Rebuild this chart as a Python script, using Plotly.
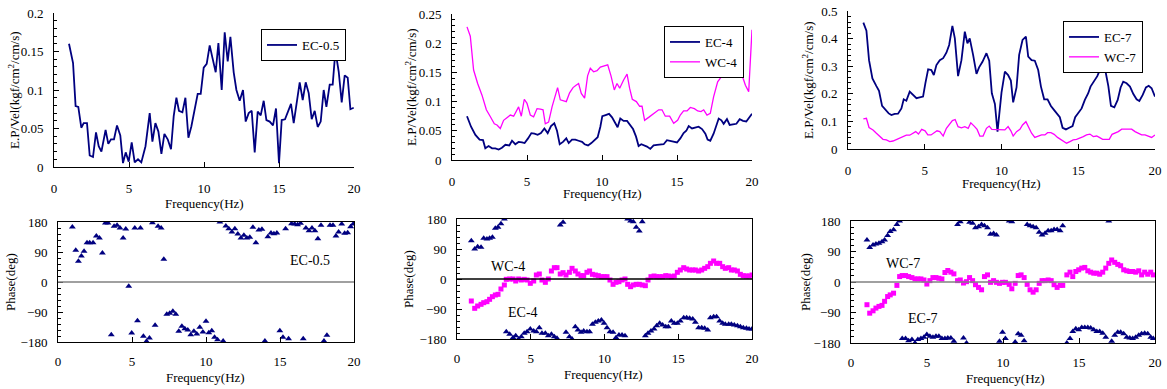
import plotly.graph_objects as go

# ---------------- DATA ----------------
# Top-left: EC-0.5 E.P/Vel
f_ec05 = [1.0, 1.27, 1.44, 1.62, 1.82, 1.98, 2.2, 2.38, 2.6, 2.8, 2.98, 3.16, 3.44, 3.62, 3.8, 4.0, 4.2, 4.42,
          4.6, 4.78, 4.98, 5.18, 5.38, 5.6, 5.82, 6.1, 6.38, 6.56, 6.76, 6.96, 7.16, 7.36, 7.58, 7.8, 7.98,
          8.16, 8.33, 8.56, 8.76, 8.96, 9.16, 9.38, 9.58, 9.78, 9.98, 10.18, 10.38, 10.56, 10.78, 10.96,
          11.18, 11.38, 11.58, 11.76, 11.98, 12.16, 12.38, 12.6, 12.78, 12.98, 13.18, 13.38, 13.58, 13.78,
          13.98, 14.16, 14.38, 14.6, 14.8, 15.0, 15.18, 15.4, 15.6, 15.8, 15.98, 16.18, 16.38, 16.58, 16.78,
          16.98, 17.18, 17.38, 17.58, 17.78, 17.98, 18.16, 18.38, 18.58, 18.76, 18.98, 19.18, 19.38, 19.58,
          19.76, 19.98]
ep_ec05 = [0.160, 0.135, 0.079, 0.078, 0.051, 0.057, 0.057, 0.015, 0.013, 0.045, 0.027, 0.020, 0.048, 0.030,
           0.036, 0.036, 0.054, 0.041, 0.005, 0.019, 0.007, 0.032, 0.006, 0.010, 0.006, 0.027, 0.070, 0.033,
           0.057, 0.046, 0.017, 0.043, 0.036, 0.023, 0.066, 0.090, 0.073, 0.071, 0.090, 0.038, 0.053, 0.074,
           0.095, 0.095, 0.129, 0.134, 0.158, 0.142, 0.123, 0.161, 0.100, 0.175, 0.137, 0.169, 0.123, 0.100,
           0.086, 0.100, 0.059, 0.070, 0.073, 0.019, 0.072, 0.067, 0.086, 0.061, 0.059, 0.054, 0.076, 0.005,
           0.061, 0.062, 0.071, 0.082, 0.057, 0.087, 0.110, 0.087, 0.110, 0.096, 0.062, 0.073, 0.052, 0.059,
           0.100, 0.078, 0.107, 0.107, 0.151, 0.124, 0.084, 0.119, 0.116, 0.075, 0.077]

# Top-middle: EC-4 / WC-4
f_wc4 = [1.0, 1.22, 1.44, 1.71, 2.0, 2.29, 2.56, 2.82, 3.0, 3.22, 3.44, 3.67, 3.89, 4.11, 4.44, 4.62, 4.82,
         5.0, 5.22, 5.44, 5.67, 5.89, 6.07, 6.22, 6.44, 6.67, 6.89, 7.04, 7.22, 7.44, 7.62, 7.84, 8.07, 8.27,
         8.44, 8.62, 8.84, 9.04, 9.22, 9.44, 9.67, 9.89, 10.11, 10.38, 10.6, 10.82, 11.0, 11.18, 11.44, 11.67,
         11.84, 12.02, 12.29, 12.51, 12.67, 12.84, 13.11, 13.33, 13.56, 13.78, 14.0, 14.22, 14.51, 14.78,
         15.04, 15.22, 15.44, 15.67, 15.89, 16.16, 16.38, 16.6, 16.78, 17.0, 17.22, 17.44, 17.71, 18.0, 18.22,
         18.51, 18.78, 19.04, 19.33, 19.56, 19.78, 20.0]
ep_wc4 = [0.228, 0.212, 0.154, 0.131, 0.111, 0.086, 0.074, 0.062, 0.060, 0.054, 0.068, 0.073, 0.077, 0.075,
          0.091, 0.075, 0.104, 0.097, 0.077, 0.074, 0.088, 0.087, 0.086, 0.062, 0.065, 0.091, 0.113, 0.124,
          0.103, 0.102, 0.100, 0.115, 0.124, 0.128, 0.131, 0.114, 0.106, 0.144, 0.157, 0.151, 0.153, 0.159,
          0.161, 0.163, 0.144, 0.120, 0.131, 0.123, 0.137, 0.147, 0.123, 0.104, 0.100, 0.092, 0.092, 0.068,
          0.073, 0.077, 0.081, 0.086, 0.086, 0.075, 0.075, 0.063, 0.068, 0.077, 0.084, 0.084, 0.090, 0.088,
          0.084, 0.083, 0.086, 0.077, 0.080, 0.108, 0.134, 0.144, 0.143, 0.148, 0.157, 0.160, 0.146, 0.128,
          0.117, 0.223]
f_ec4 = [1.0, 1.27, 1.56, 1.84, 2.07, 2.22, 2.44, 2.67, 2.89, 3.11, 3.33, 3.56, 3.82, 4.0, 4.22, 4.44, 4.67,
         4.84, 5.07, 5.29, 5.49, 5.71, 5.93, 6.16, 6.38, 6.6, 6.82, 7.0, 7.18, 7.4, 7.62, 7.78, 8.0, 8.22, 8.44,
         8.67, 8.84, 9.07, 9.29, 9.51, 9.71, 9.89, 10.02, 10.24, 10.47, 10.67, 10.89, 11.04, 11.22, 11.44,
         11.67, 11.89, 12.07, 12.27, 12.44, 12.62, 12.82, 13.0, 13.22, 13.44, 13.67, 13.89, 14.11, 14.33,
         14.56, 14.78, 15.0, 15.22, 15.44, 15.62, 15.78, 16.0, 16.22, 16.44, 16.67, 16.89, 17.04, 17.22,
         17.44, 17.62, 17.78, 17.96, 18.11, 18.33, 18.51, 18.73, 18.96, 19.18, 19.4, 19.62, 19.84, 20.0]
ep_ec4 = [0.075, 0.057, 0.043, 0.035, 0.034, 0.020, 0.024, 0.020, 0.020, 0.018, 0.021, 0.026, 0.025, 0.033,
          0.027, 0.031, 0.030, 0.029, 0.037, 0.046, 0.045, 0.043, 0.046, 0.054, 0.046, 0.058, 0.063, 0.050,
          0.027, 0.031, 0.037, 0.029, 0.035, 0.035, 0.033, 0.031, 0.027, 0.025, 0.029, 0.034, 0.039, 0.057,
          0.075, 0.077, 0.079, 0.073, 0.064, 0.056, 0.071, 0.067, 0.067, 0.058, 0.053, 0.040, 0.024, 0.027,
          0.025, 0.023, 0.019, 0.025, 0.026, 0.027, 0.027, 0.034, 0.033, 0.031, 0.030, 0.037, 0.046, 0.050,
          0.058, 0.054, 0.056, 0.057, 0.053, 0.045, 0.035, 0.033, 0.045, 0.058, 0.071, 0.068, 0.062, 0.070,
          0.060, 0.061, 0.062, 0.070, 0.067, 0.066, 0.073, 0.079]

# Top-right: EC-7 / WC-7
f_ec7 = [1.0, 1.2, 1.37, 1.59, 1.85, 2.02, 2.22, 2.43, 2.65, 2.83, 3.04, 3.26, 3.48, 3.63, 3.8, 4.02, 4.24,
         4.46, 4.67, 4.89, 5.04, 5.22, 5.43, 5.59, 5.76, 5.98, 6.2, 6.41, 6.59, 6.8, 6.96, 7.17, 7.39, 7.61,
         7.78, 7.93, 8.15, 8.37, 8.54, 8.76, 9.02, 9.2, 9.37, 9.57, 9.74, 10.0, 10.22, 10.43, 10.61, 10.76,
         10.98, 11.15, 11.37, 11.59, 11.74, 11.96, 12.17, 12.39, 12.57, 12.78, 13.0, 13.22, 13.43, 13.65,
         13.8, 13.98, 14.2, 14.41, 14.63, 14.8, 15.0, 15.22, 15.43, 15.65, 15.8, 16.02, 16.24, 16.41, 16.57,
         16.78, 16.96, 17.13, 17.35, 17.57, 17.76, 17.93, 18.15, 18.37, 18.59, 18.8, 18.98, 19.2, 19.41,
         19.59, 19.78, 20.0]
ep_ec7 = [0.458, 0.429, 0.322, 0.256, 0.228, 0.211, 0.156, 0.141, 0.129, 0.123, 0.127, 0.128, 0.147, 0.180,
          0.175, 0.208, 0.196, 0.184, 0.187, 0.190, 0.238, 0.289, 0.286, 0.268, 0.304, 0.322, 0.329, 0.349,
          0.377, 0.446, 0.401, 0.264, 0.322, 0.425, 0.383, 0.401, 0.341, 0.272, 0.296, 0.316, 0.347, 0.320,
          0.202, 0.163, 0.063, 0.204, 0.280, 0.268, 0.248, 0.169, 0.223, 0.341, 0.395, 0.407, 0.335, 0.322,
          0.320, 0.286, 0.226, 0.180, 0.180, 0.156, 0.141, 0.123, 0.115, 0.077, 0.071, 0.077, 0.083, 0.115,
          0.129, 0.147, 0.178, 0.202, 0.226, 0.244, 0.264, 0.286, 0.295, 0.280, 0.228, 0.156, 0.151, 0.178,
          0.223, 0.244, 0.238, 0.226, 0.199, 0.180, 0.174, 0.196, 0.223, 0.229, 0.220, 0.190]
f_wc7 = [1.0, 1.2, 1.37, 1.63, 1.85, 2.07, 2.28, 2.5, 2.72, 2.93, 3.15, 3.37, 3.59, 3.8, 4.02, 4.24, 4.41,
         4.59, 4.8, 5.02, 5.2, 5.41, 5.59, 5.8, 5.98, 6.2, 6.41, 6.63, 6.8, 6.98, 7.17, 7.39, 7.61, 7.83, 8.0,
         8.22, 8.41, 8.59, 8.8, 9.02, 9.2, 9.37, 9.57, 9.78, 10.0, 10.22, 10.43, 10.61, 10.76, 10.98, 11.2,
         11.37, 11.59, 11.74, 11.96, 12.17, 12.39, 12.61, 12.83, 13.0, 13.22, 13.43, 13.65, 13.87, 14.09,
         14.24, 14.46, 14.67, 14.89, 15.11, 15.33, 15.54, 15.76, 15.98, 16.2, 16.37, 16.59, 16.8, 17.02,
         17.2, 17.39, 17.61, 17.83, 18.04, 18.26, 18.48, 18.7, 18.91, 19.13, 19.35, 19.57, 19.78, 20.0]
ep_wc7 = [0.109, 0.111, 0.078, 0.069, 0.057, 0.047, 0.035, 0.033, 0.027, 0.029, 0.035, 0.039, 0.047, 0.050,
          0.050, 0.059, 0.063, 0.054, 0.071, 0.066, 0.051, 0.051, 0.059, 0.066, 0.063, 0.047, 0.075, 0.093,
          0.103, 0.107, 0.081, 0.077, 0.081, 0.075, 0.095, 0.083, 0.071, 0.047, 0.047, 0.075, 0.083, 0.071,
          0.071, 0.069, 0.071, 0.069, 0.081, 0.066, 0.047, 0.063, 0.071, 0.087, 0.099, 0.081, 0.057, 0.042,
          0.047, 0.051, 0.051, 0.059, 0.059, 0.053, 0.042, 0.035, 0.027, 0.021, 0.027, 0.033, 0.035, 0.039,
          0.045, 0.051, 0.054, 0.045, 0.047, 0.042, 0.035, 0.035, 0.035, 0.053, 0.057, 0.063, 0.072, 0.072,
          0.071, 0.072, 0.063, 0.057, 0.051, 0.051, 0.047, 0.042, 0.051]

# Bottom-left: EC-0.5 phase
fp_ec05 = [0.97, 1.2, 1.38, 1.58, 1.76, 1.96, 2.14, 2.37, 2.59, 2.8, 3.0, 3.2, 3.38, 3.6, 3.79, 3.99, 4.19,
           4.4, 4.58, 4.78, 4.98, 5.19, 5.37, 5.57, 5.77, 5.98, 6.18, 6.38, 6.56, 6.76, 6.97, 7.15, 7.35, 7.55,
           7.76, 7.96, 8.16, 8.37, 8.57, 8.77, 8.97, 9.18, 9.38, 9.58, 9.79, 10.0, 10.19, 10.39, 10.58, 10.78,
           10.94, 11.16, 11.34, 11.54, 11.75, 11.95, 12.15, 12.36, 12.56, 12.76, 12.96, 13.17, 13.37, 13.57,
           13.78, 13.98, 14.18, 14.39, 14.59, 14.79, 14.99, 15.2, 15.38, 15.58, 15.78, 15.99, 16.19, 16.39,
           16.57, 16.75, 16.96, 17.16, 17.36, 17.56, 17.77, 17.97, 18.17, 18.38, 18.58, 18.78, 18.96, 19.17,
           19.37, 19.57, 19.77, 19.95]
ph_ec05 = [165, 95, 62, 78, 92, 118, 118, 118, 138, 132, 87, 177, 177, -158, 167, 170, 162, 132, 159, -13,
           -153, 162, -116, 162, -163, -178, -168, 178, -130, 167, 162, 68, -97, -94, -88, -97, -148, -133,
           -140, -144, -158, -148, -156, -136, -150, -118, -152, -146, -166, -173, 180, -177, 168, 160, 150,
           160, 144, 132, 140, 132, 134, 164, 118, 156, 158, -177, 136, 147, 145, 147, -146, -166, 160, -170,
           175, 174, 172, 176, -170, 162, 154, 162, 154, 130, 170, -177, -160, 170, 170, 138, 150, 174, 146,
           148, 166, 174]

# Bottom-middle: EC-4 / WC-4 phase
fp_4 = [0.97, 1.2, 1.4, 1.63, 1.81, 2.03, 2.21, 2.4, 2.6, 2.78, 2.98, 3.21, 3.34, 3.57, 3.8, 3.98, 4.18, 4.36,
        4.56, 4.75, 4.97, 5.2, 5.38, 5.58, 5.76, 5.99, 6.19, 6.4, 6.6, 6.78, 7.0, 7.19, 7.39, 7.62, 7.8, 8.02,
        8.2, 8.41, 8.59, 8.81, 8.99, 9.18, 9.38, 9.58, 9.79, 9.97, 10.17, 10.37, 10.58, 10.78, 10.98, 11.19,
        11.39, 11.57, 11.77, 11.95, 12.15, 12.36, 12.56, 12.77, 12.95, 13.15, 13.36, 13.54, 13.74, 13.94,
        14.15, 14.33, 14.53, 14.73, 14.94, 15.14, 15.37, 15.57, 15.77, 15.98, 16.16, 16.38, 16.59, 16.79,
        17.0, 17.18, 17.4, 17.6, 17.81, 18.01, 18.19, 18.42, 18.6, 18.8, 19.01, 19.21, 19.41, 19.62, 19.8, 20.0]
ph_ec4 = [115, 90, 97, 95, 122, 120, 122, 125, 152, 155, 166, 180, -158, -166, -176, -170, -180, -173, -163,
          -158, -150, -156, -158, -146, -163, -163, -170, -166, -173, -178, 162, 170, -160, -173, -180, -143,
          -153, -160, -156, -158, -158, -136, -130, -126, -123, -133, -146, -158, -160, -176, -168, -168, -170,
          180, 174, 172, 155, 144, 172, -170, -163, -156, -150, -140, -133, -138, -143, -143, -126, -133, -133,
          -126, -116, -116, -118, -120, -130, -146, -146, -148, -153, -116, -113, -113, -126, -133, -136, -136,
          -136, -138, -140, -143, -146, -148, -150, -150]
ph_wc4 = [-66, -88, -81, -76, -71, -68, -61, -53, -48, -46, -30, -18, -1, 0, 0, -6, 0, -3, -1, -3, -13, -6, 12,
          15, -3, -10, 0, 24, 34, 34, 15, 19, 12, 20, 32, 24, 15, 10, 10, 20, 24, 14, 12, 10, 7, 7, 7, -3, -16,
          -10, -8, -3, 0, -16, -23, -18, -16, -16, -18, -20, -3, 7, 9, 7, 7, 7, 10, 9, 7, 9, 20, 27, 34, 30, 27,
          27, 27, 24, 27, 32, 37, 47, 54, 47, 47, 37, 32, 34, 27, 27, 24, 14, 10, 9, 9, 12]

# Bottom-right: EC-7 / WC-7 phase
fp_7 = [1.05, 1.23, 1.45, 1.64, 1.84, 2.04, 2.21, 2.41, 2.58, 2.8, 3.02, 3.2, 3.37, 3.59, 3.79, 4.01, 4.21, 4.4,
        4.6, 4.8, 4.99, 5.19, 5.39, 5.59, 5.78, 5.98, 6.18, 6.37, 6.57, 6.77, 7.01, 7.19, 7.4, 7.6, 7.8, 8.0,
        8.19, 8.39, 8.59, 8.78, 8.98, 9.18, 9.38, 9.57, 9.77, 9.97, 10.16, 10.41, 10.58, 10.8, 11.0, 11.19,
        11.39, 11.59, 11.78, 11.98, 12.18, 12.38, 12.57, 12.77, 12.97, 13.17, 13.36, 13.56, 13.76, 13.93,
        14.2, 14.41, 14.59, 14.79, 14.98, 15.18, 15.38, 15.58, 15.77, 15.97, 16.17, 16.36, 16.56, 16.76,
        16.96, 17.15, 17.35, 17.55, 17.74, 17.94, 18.14, 18.34, 18.53, 18.73, 18.93, 19.12, 19.32, 19.52,
        19.72, 19.89]
ph_ec7 = [124, 102, 109, 112, 114, 119, 124, 137, 149, 154, 170, 180, -167, -167, -173, -170, -180, -170, -167,
          -163, -155, -160, -163, -160, -160, -167, -167, -165, -165, -175, 170, 178, -165, -180, 176, 173, 160,
          163, 170, 166, 160, 141, 143, 139, -175, -148, -167, 180, 178, -177, -153, -157, -173, 170, 166, 163,
          160, 147, 139, 144, 151, 151, 155, 155, 151, 166, -180, -167, -146, -138, -141, -134, -134, -134,
          -136, -141, -146, -146, -151, -163, 180, -175, -157, -148, -148, -153, -163, -165, -167, -163, -157,
          -153, -151, -153, -163, -167]
ph_wc7 = [-67, -92, -85, -77, -72, -69, -57, -43, -38, -33, -10, 16, 19, 19, 16, 13, 9, 9, 9, 6, -6, 4, 13, 13,
          11, 9, 28, 34, 29, 24, 4, 6, -3, 1, 13, 4, -8, -16, -23, 16, 21, -1, 4, -1, -4, -1, -1, -7, -20, -4,
          19, 21, 13, -7, -23, -30, -23, -4, 4, 4, 6, 4, -8, -16, -10, -10, 21, 29, 16, 31, 36, 41, 43, 33, 29,
          26, 26, 23, 29, 41, 55, 65, 58, 52, 48, 36, 33, 31, 31, 29, 33, 21, 29, 23, 29, 21]

x_ticks = [0, 5, 10, 15, 20]
phase_ticks = [-180, -90, 0, 90, 180]

NAVY = "#000080"
MAG = "#FF00FF"
FONT = "Liberation Serif"
W, H = 1167, 389

# ---------------- FIGURE ----------------
fig = go.Figure()

def line(x, y, name, color, ax, legend, width=1.8):
    fig.add_trace(go.Scatter(x=x, y=y, name=name, mode="lines",
                             line=dict(color=color, width=width),
                             xaxis="x" + ax, yaxis="y" + ax, legend=legend, showlegend=True))

def pts(x, y, color, symbol, size, ax):
    fig.add_trace(go.Scatter(x=x, y=y, mode="markers",
                             marker=dict(color=color, symbol=symbol, size=size, line=dict(width=0)),
                             xaxis="x" + ax, yaxis="y" + ax, showlegend=False))

line(f_ec05, ep_ec05, "EC-0.5", NAVY, "", "legend")
line(f_ec4, ep_ec4, "EC-4", NAVY, "2", "legend2")
line(f_wc4, ep_wc4, "WC-4", MAG, "2", "legend2", 1.3)
line(f_ec7, ep_ec7, "EC-7", NAVY, "3", "legend3")
line(f_wc7, ep_wc7, "WC-7", MAG, "3", "legend3", 1.3)

pts(fp_ec05, ph_ec05, NAVY, "triangle-up", 6, "4")
pts(fp_4, ph_ec4, NAVY, "triangle-up", 6, "5")
pts(fp_4, ph_wc4, MAG, "square", 5, "5")
pts(fp_7, ph_ec7, NAVY, "triangle-up", 6, "6")
pts(fp_7, ph_wc7, MAG, "square", 5, "6")

def xd(a, b):
    return [a / W, b / W]

def yd(top, bottom):
    return [1 - bottom / H, 1 - top / H]

tickfont = dict(family=FONT, size=13, color="black")

def xaxis(dom, anchor, mirror=False, standoff=9):
    return dict(domain=dom, anchor=anchor, range=[0, 20], tickvals=x_ticks, ticks="inside", ticklen=5,
                tickcolor="black", showline=True, linecolor="black", linewidth=1, mirror=mirror,
                showgrid=False, zeroline=False, tickfont=tickfont, ticklabelstandoff=standoff,
                automargin=False)

def yaxis(dom, anchor, rng, dtick, minor, mirror=False, tickvals=None):
    d = dict(domain=dom, anchor=anchor, range=rng, ticks="inside", ticklen=5, tickcolor="black",
             showline=True, linecolor="black", linewidth=1, mirror=mirror, showgrid=False,
             zeroline=False, tickfont=tickfont, ticklabelstandoff=7, automargin=False,
             minor=dict(dtick=minor, ticks="inside", ticklen=3, tickcolor="black", showgrid=False))
    if tickvals is not None:
        d["tickvals"] = tickvals
    else:
        d["dtick"] = dtick
        d["tick0"] = 0
    return d

fig.update_layout(
    template="none",
    width=W, height=H, margin=dict(l=0, r=0, t=0, b=0, autoexpand=False),
    paper_bgcolor="white", plot_bgcolor="white",
    font=dict(family=FONT, size=13, color="black"),
    xaxis=xaxis(xd(54, 354), "y"),
    yaxis=yaxis(yd(13, 167), "x", [0, 0.2], 0.05, 0.01),
    xaxis2=xaxis(xd(452, 752), "y2"),
    yaxis2=yaxis(yd(14, 160), "x2", [0, 0.25], 0.05, 0.01),
    xaxis3=xaxis(xd(848, 1155), "y3"),
    yaxis3=yaxis(yd(11, 149), "x3", [0, 0.5], 0.1, 0.02),
    xaxis4=xaxis(xd(58, 354), "y4", True, 7),
    yaxis4=yaxis(yd(222, 342), "x4", [-180, 180], None, 18, True, phase_ticks),
    xaxis5=xaxis(xd(457, 752), "y5", True, 7),
    yaxis5=yaxis(yd(219, 339), "x5", [-180, 180], None, 18, True, phase_ticks),
    xaxis6=xaxis(xd(851, 1155), "y6", True, 7),
    yaxis6=yaxis(yd(221, 343), "x6", [-180, 180], None, 18, True, phase_ticks),
)

legend_common = dict(bgcolor="white", bordercolor="black", borderwidth=1,
                     font=dict(family=FONT, size=13, color="black"),
                     xanchor="right", yanchor="top", itemwidth=30, tracegroupgap=0)
fig.update_layout(
    legend=dict(x=346 / W, y=1 - 29 / H, **legend_common),
    legend2=dict(x=744 / W, y=1 - 26 / H, **legend_common),
    legend3=dict(x=1143 / W, y=1 - 21 / H, **legend_common),
)

# zero lines in phase panels
for ax, col in (("4", "#808080"), ("5", "black"), ("6", "#808080")):
    fig.add_shape(type="line", xref="x" + ax + " domain", yref="y" + ax, x0=0, x1=1, y0=0, y1=0,
                  line=dict(color=col, width=1.3))

# axis titles as annotations
def ann(text, x, y, angle=0, size=13, xref="paper", yref="paper"):
    fig.add_annotation(text=text, x=x, y=y, xref=xref, yref=yref, showarrow=False, textangle=angle,
                       xanchor="center", yanchor="middle",
                       font=dict(family=FONT, size=size, color="black"))

ytitle = "E.P/Vel(kgf/cm<sup>2</sup>/cm/s)"
ann(ytitle, 14 / W, 1 - 90 / H, -90)
ann(ytitle, 411 / W, 1 - 87 / H, -90)
ann(ytitle, 808 / W, 1 - 80 / H, -90)
ann("Frequency(Hz)", 204 / W, 1 - 203 / H)
ann("Frequency(Hz)", 602 / W, 1 - 193 / H)
ann("Frequency(Hz)", 1001 / W, 1 - 183 / H)
ann("Phase(deg)", 10 / W, 1 - 282 / H, -90)
ann("Phase(deg)", 408 / W, 1 - 279 / H, -90)
ann("Phase(deg)", 805 / W, 1 - 282 / H, -90)
ann("Frequency(Hz)", 206 / W, 1 - 377 / H)
ann("Frequency(Hz)", 603 / W, 1 - 374 / H)
ann("Frequency(Hz)", 1005 / W, 1 - 378 / H)

# in-panel labels (data coordinates)
ann("EC-0.5", 17.0, 66, size=14, xref="x4", yref="y4")
ann("WC-4", 3.45, 39, size=14, xref="x5", yref="y5")
ann("EC-4", 4.45, -99, size=14, xref="x5", yref="y5")
ann("WC-7", 3.4, 56, size=14, xref="x6", yref="y6")
ann("EC-7", 4.75, -109, size=14, xref="x6", yref="y6")

fig.write_html("out.html")
